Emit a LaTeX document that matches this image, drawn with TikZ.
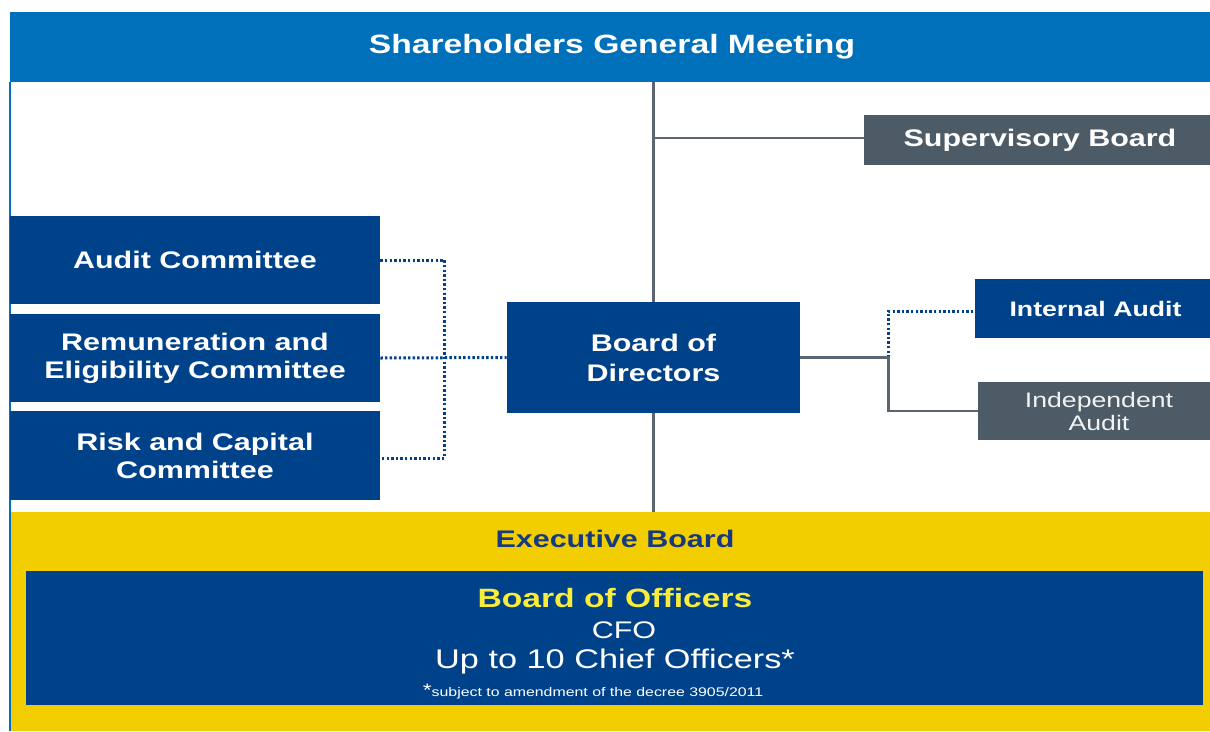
\documentclass[tikz,border=0pt]{standalone}
\usepackage{fontspec}
\setmainfont{Liberation Sans}[FakeStretch=1.27]
\usepackage{tikz}
\usepackage{xcolor}
\usetikzlibrary{calc}
\usetikzlibrary{positioning}

\definecolor{sgmblue}{RGB}{0,112,186}
\definecolor{navy}{RGB}{0,66,138}
\definecolor{slate}{RGB}{77,91,102}
\definecolor{linkgrey}{RGB}{92,102,112}
\definecolor{gold}{RGB}{242,206,0}
\definecolor{lemon}{RGB}{250,236,60}
\definecolor{execblue}{RGB}{22,58,128}

\begin{document}
\begin{tikzpicture}[x=1,y=-1,thick,
	box/.style={fill=navy, text=white, align=center, inner sep=0pt,
		minimum width=370, minimum height=88,
		font=\bfseries\fontsize{24}{28}\selectfont},
	greybox/.style={fill=slate, text=white, align=center, inner sep=0pt,
		font=\bfseries\fontsize{24}{28}\selectfont},
	panel/.style={inner sep=0pt, minimum width=1200},
	link/.style={draw=linkgrey, line width=2.5pt},
	dots/.style={draw=navy, line width=3pt, dash pattern=on 2.4pt off 2.2pt}]

\useasboundingbox (0,0) rectangle (1210,731);

% top and bottom bands
\node[panel, fill=sgmblue, minimum height=70, text=white,
	font=\bfseries\fontsize{26.5}{30}\selectfont] (sgm) at (610,47) {\hspace*{4pt}Shareholders General Meeting};
\node[panel, fill=gold, minimum height=219] (exec) at (610,621.5) {};
\node[fill=navy, inner sep=0pt, minimum width=1177, minimum height=134] (offi) at (614.5,638) {};

\draw[sgmblue, line width=2pt] (sgm.south west) -- (sgm.south west |- exec.south);

% boards
\node[greybox, minimum width=346, minimum height=50] (sup) at (1037,140) {\hspace*{6pt}Supervisory Board};
\node[box, minimum width=293, minimum height=111,
	font=\bfseries\fontsize{24}{30}\selectfont] (bod) at (653.5,357.5) {Board of\\Directors};

% committees
\node[box] (aud) at (195,260) {Audit Committee};
\node[box] (rem) at (195,358) {Remuneration and\\Eligibility Committee};
\node[box, minimum height=89] (risk) at (195,455.5) {Risk and Capital\\Committee};

% audits
\node[box, minimum width=235, minimum height=59,
	font=\bfseries\fontsize{21}{24}\selectfont] (ia) at (1092.5,308.5) {\hspace*{6pt}Internal Audit};
\node[greybox, minimum width=232, minimum height=58, text=white!92!slate,
	font=\fontsize{21}{23}\selectfont] (inda) at (1094,411) {\hspace*{10pt}Independent\\\hspace*{10pt}Audit};

% executive board texts
\node[anchor=base, text=execblue, font=\bfseries\fontsize{24}{28}\selectfont] (exect) at (615,547) {Executive Board};
\node[anchor=base, text=lemon, font=\bfseries\fontsize{26.5}{30}\selectfont] (offt) at (615,607) {Board of Officers};
\node[anchor=base, text=white, font=\fontsize{24}{28}\selectfont] (cfo) at (624,638) {CFO};
\node[anchor=base, text=white, font=\fontsize{27}{30}\selectfont] (chiefs) at (615,668) {Up to 10 Chief Officers*};
\node[anchor=base, text=white] (note) at (593,696)
	{{\fontsize{18}{18}\selectfont *}{\fontsize{12.5}{13}\selectfont subject to amendment of the decree 3905/2011}};

% solid lines
\coordinate (top) at (sgm.south -| bod.north);
\draw[link] (top) -- (bod.north);
\draw[link] (bod.south) -- (bod.south |- exec.north);
\draw[link] ($(top |- sup.west)+(0,-2)$) -- ($(sup.west)+(0,-2)$);

% dotted lines
\draw[dots] (aud.east) -- ++(64,0) |- ($(risk.east)+(0,2.5)$);
\draw[dots] (rem.east) -- (bod.west);

\coordinate (rj) at ($(bod.east)+(88,0)$);
\draw[dots] (rj) |- ($(ia.west)+(0,2.5)$);
\draw[link] (bod.east) -- (rj) |- (inda.west);

\end{tikzpicture}
\end{document}
